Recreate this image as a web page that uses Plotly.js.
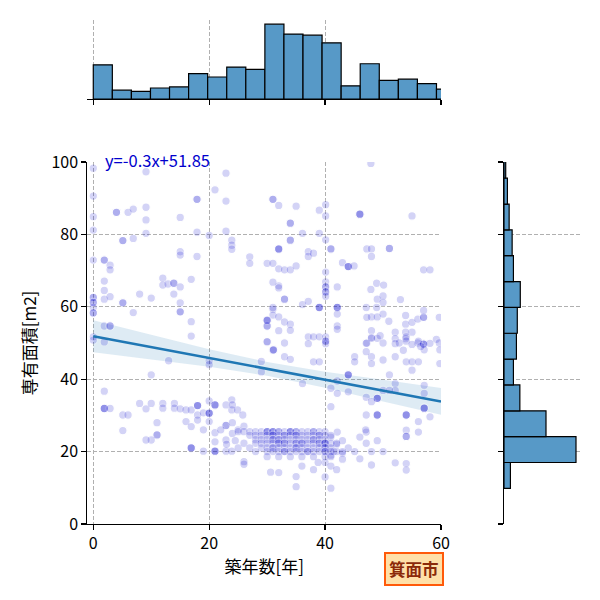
<!DOCTYPE html>
<html>
<head>
<meta charset="utf-8">
<script src="https://cdn.plot.ly/plotly-3.0.1.min.js"></script>
<style>
body { margin: 0; background: #fff; }
#chart { width: 600px; height: 600px; }
</style>
</head>
<body>
<div id="chart"></div>
<script>
// scatter points [築年数, 専有面積]
const pointsUpper = [
  [0,98.3],[9.1,97.3],[0,90.6],[17.9,89.7],[17.9,89.7],[22.9,96.9],[21,92.3],[22.9,89.2],[31,89.7],[31,89.7],
  [32,88],[4,86.1],[4,86.1],[6,86.1],[6.9,87],[9.1,87.5],[9.1,84],[0,84.9],[15,84.7],[0,81.2],
  [9.1,80.3],[17.9,80.6],[20,79.7],[22.9,80.9],[23.9,78.4],[23.9,77],[23.9,75.9],[5.1,78.3],[5.1,78.3],[6.9,78.9],
  [0,72.9],[1.9,72.9],[1.9,72.9],[2.9,71.5],[2.9,70.2],[15,75.2],[15,74.3],[17.9,73.9],[27,73.8],[27,72],
  [30,72],[31,72],[32,75.9],[32,70.5],[1.9,67.1],[1.9,64.5],[1.9,62.1],[2.9,62.8],[5.1,61.1],[5.1,61.1],
  [6.9,58.4],[8,63.5],[10,62.4],[12,67.9],[12,66],[12.9,66.3],[13.9,66.5],[13.9,66.5],[13.9,63.5],[15,65.5],
  [15,61.1],[15,58.6],[15,58.6],[16.9,67.6],[16.9,55.9],[0,62.6],[0,62.6],[0,61.2],[0,61.2],[0,59.8],
  [0,58.3],[0,58.3],[1.9,54.7],[2.9,54.7],[2.9,54.7],[30,56.2],[30,54.7],[30,54.7],[31,59.3],[31,57.7],
  [32,65.8],[32,53.4],[47.9,99.6],[35,87.8],[39,86.7],[40.1,88.2],[40.1,85.1],[46,85.6],[46,85.6],[46,85.6],
  [55,85.1],[34,83.1],[34,83.1],[36.1,80.3],[39,80.3],[40.1,78.5],[34,78.4],[34,78.4],[32,76],[32,76],
  [37.1,75.2],[37.1,73.9],[38,74.8],[41,76],[41,76],[47.2,76],[48,76],[48,73.9],[51.1,76.1],[51.1,76.1],
  [43,72.2],[44,71.1],[44,71.1],[44,71.1],[45,71.3],[57,70.2],[58.1,70.2],[33,70.2],[34,70.2],[35,71.3],
  [31,66.8],[32,65.2],[40.1,69.6],[40.1,66.9],[40.1,65.5],[40.1,65.5],[40.1,64.1],[40.1,64.1],[40.1,62.9],[42.1,65.5],
  [47.9,64.8],[48.9,66.5],[50.1,66],[33,62.1],[33,62.1],[36.1,60.6],[37.1,61.5],[39,59.8],[39,59.8],[39,59.8],
  [42.1,59.8],[42.1,59.8],[42.1,59.8],[42.1,58],[31,59.8],[30,56.3],[30,56.3],[32,57.2],[33,55.8],[34,55.2],
  [34,53.5],[47.1,59.8],[48,57.2],[49,57.2],[50,58],[49,62.1],[50,61.2],[48.9,59.8],[47.2,57.1],[53.9,57.6],
  [53.9,55.2],[55,55.7],[56,56.6],[57,57.1],[57,57.1],[59.7,57.1],[48,53.4],[48,51.5],[42.1,54.7],[42.1,53.8],
  [50,63],[53,62],[51,56],[57,59],[55,53],[59.2,51]
];
const pointsMiddle = [
  [30,50.4],[33,50],[37.1,51.7],[37.1,49.8],[38,51.7],[39,51.7],[40.1,51.7],[40.1,49.8],[52.1,53],[52.1,51.2],
  [52.1,49.8],[53.9,53],[53.9,51.2],[57,49.7],[57,49.7],[57,49.7],[59.7,50],[47.2,50],[48,51.3],[49,51.3],
  [50,50],[52.8,50],[54,51.7],[56,50],[0,51.7],[0,50.8],[1.9,50.3],[16.9,51.9],[13,45.1],[20,45.1],
  [20,44],[10,41.2],[29,44.9],[29,42],[30,50.3],[31,48],[31.1,48.1],[31.1,48.1],[33,46.2],[34,45.5],
  [38,44.8],[39,44.8],[40.1,50.5],[40.1,50.5],[45.1,46.2],[45.1,44.8],[47.1,49.9],[48,46.2],[48,44.3],[50,45.3],
  [47.1,47.6],[52.1,46.2],[54,44.8],[55,44.8],[56.1,44.8],[57.1,48.1],[55,42.5],[54,50.5],[55,49.6],[56.1,50.5],
  [58.1,49.9],[59.8,48.1],[59.8,44.3],[57.1,38.3],[57.1,36.1],[52.1,38.8],[52.1,36.9],[50,36.9],[51.1,36.9],[51.1,41.2],
  [44,41.2],[44,41.2],[44,41.2],[44,36.5],[41,37.5],[42.1,36.1],[42.1,39.5],[36.1,38.8],[1.9,36.7],[56.5,49],
  [53.5,48],[49.5,52]
];
const pointsLower = [
  [1.9,31.9],[1.9,31.9],[1.9,31.9],[2.9,31.9],[5.1,30.1],[6,30.1],[5.1,25.8],[8,33.3],[9.1,31.8],[10,33.3],
  [12,33.3],[12,32],[14,33.3],[14,32],[15,31.8],[16,31.5],[16.9,31.5],[18,32.7],[18,32.7],[18,32.7],
  [18,30.1],[19,30.7],[20,30.6],[20,30.6],[20,30.6],[20,28.3],[21,32.9],[21,32.9],[21,32.9],[19,26],
  [18,28.7],[16,28.3],[16.9,26.9],[11,28],[11,24.6],[11,24.6],[10,23.2],[9.1,23.2],[21,25.2],[21,22.7],
  [22.9,27.2],[22.9,27.2],[22.9,23.2],[23.9,34.3],[23.9,31.5],[24.9,31.5],[25.8,30.1],[22.9,32.9],[24,32.9],[20,34],
  [21,20.1],[21,20.1],[21,20.1],[19,20.1],[22.9,20.1],[23.9,20.1],[16.9,21],[16.9,21],[16.9,21],[26,17.2],
  [26,16.5],[30.6,14.3],[24,25],[25,26],[26,27],[24.5,23],[23,22],[25,21],[22,26],[24,28],
  [35,10.3],[35,13.1],[32,14.2],[41,9.9],[42.1,25.4],[43,19.6],[43,17.9],[45.1,20],[47.1,25.4],[47.1,22.3],
  [48,20],[48,16.3],[52.1,16.9],[54,16.7],[54,14.9],[54,25.9],[54,24.2],[54,24.2],[56.1,25.4],[58.1,29.6],
  [56.1,28.3],[54,30.1],[54,30.1],[54,30.1],[57.1,32],[57.1,32],[57.1,32],[47.1,30.1],[49,30.1],[49,30.1],
  [49,30.1],[49,34.7],[49,34.7],[49,34.7],[47.1,35],[48,33.8],[41,32.4],[41,24],[42,22],[43,23],
  [44,21],[40,17],[41,19],[46,24],[47,26],[49,23],[50,20],[46,18],[36,16],[38,15],
  [40,13],[41,16],[42,15],[38.8,17],[41.5,20]
];
// dense block of small units, one row per area value
const clusterY = [25.5, 24.5, 23.3, 22.3, 21, 20, 18.6];
const clusterX = [
  [25,26,27,28,29,30,30,30,31,31,31,32,32,33,34,34,34,35,35,36,37,38,38,39,40],
  [27,28,29,30,31,31,32,33,33,34,35,35,36,37,38,39,39,40,41],
  [28,29,30,31,31,32,32,33,34,35,36,37,38,38,39,40],
  [26,28,29,30,31,32,32,33,33,34,35,35,36,36,37,38,39,39,40,40,40,41,42],
  [27,29,30,31,31,32,33,34,35,35,36,37,38,39,40,40,41],
  [28,30,31,32,33,33,34,35,36,37,37,38,39,40,40,41,42,43],
  [30,32,34,36,38,40,41]
];

// regression line and its confidence band
const fitX = [0, 60];
const fitY = [51.85, 33.85];
const bandX = [0, 10, 20, 30, 40, 50, 60];
const bandLo = [47.45, 45.55, 43.45, 40.95, 37.65, 33.85, 30.15];
const bandHi = [56.25, 52.15, 48.25, 44.75, 42.05, 39.85, 37.55];

// marginal histograms
const ageBinWidth = 3.29;
const ageCounts = [31, 8, 7, 10, 11, 23, 20, 29, 27, 68, 59, 58, 51, 12, 32, 17, 18, 14, 9];
const areaBinStart = 9.85;
const areaBinWidth = 7.14;
const areaCounts = [15, 168, 98, 37, 22, 29, 31, 38, 22, 19, 12, 8, 4];

const FONT = '"Noto Sans CJK JP", "Noto Sans", sans-serif';
const GRID = '#b0b0b0';
const BAR = '#5799c7';

function drawChart() {
    let pts = pointsUpper.concat(pointsMiddle, pointsLower);
    clusterY.forEach((y, i) => {
        clusterX[i].forEach(x => pts.push([x, y]));
    });

    const scatter = {
        x: pts.map(p => p[0]),
        y: pts.map(p => p[1]),
        type: 'scatter',
        mode: 'markers',
        marker: {
            color: '#0000cd',
            size: 8.5,
            opacity: 0.17,
            line: { color: '#ffffff', width: 1.2 }
        },
        xaxis: 'x', yaxis: 'y',
        hoverinfo: 'skip'
    };
    const lower = {
        x: bandX, y: bandLo, type: 'scatter', mode: 'lines',
        line: { width: 0 }, xaxis: 'x', yaxis: 'y', hoverinfo: 'skip'
    };
    const upper = {
        x: bandX, y: bandHi, type: 'scatter', mode: 'lines',
        line: { width: 0 }, fill: 'tonexty', fillcolor: 'rgba(31,119,180,0.15)',
        xaxis: 'x', yaxis: 'y', hoverinfo: 'skip'
    };
    const fit = {
        x: fitX, y: fitY, type: 'scatter', mode: 'lines',
        line: { color: '#1f77b4', width: 2.6 }, xaxis: 'x', yaxis: 'y'
    };
    const topHist = {
        x: ageCounts.map((c, i) => (i + 0.5) * ageBinWidth),
        y: ageCounts,
        width: ageCounts.map(() => ageBinWidth),
        type: 'bar',
        marker: { color: BAR, line: { color: '#000', width: 1.2 } },
        xaxis: 'x2', yaxis: 'y2'
    };
    const rightHist = {
        y: areaCounts.map((c, i) => areaBinStart + (i + 0.5) * areaBinWidth),
        x: areaCounts,
        width: areaCounts.map(() => areaBinWidth),
        type: 'bar',
        orientation: 'h',
        marker: { color: BAR, line: { color: '#000', width: 1.2 } },
        xaxis: 'x3', yaxis: 'y3'
    };

    const axisBase = {
        showline: true, linecolor: '#000', linewidth: 1.2,
        ticks: 'outside', ticklen: 5, tickwidth: 1.2, tickcolor: '#000',
        showgrid: true, gridcolor: GRID, griddash: '4px,2px', gridwidth: 1,
        zeroline: false
    };
    const mainX = [0.1458, 0.735];
    const mainY = [0.1267, 0.73];

    const layout = {
        width: 600, height: 600,
        margin: { l: 0, r: 0, t: 0, b: 0 },
        paper_bgcolor: '#fff', plot_bgcolor: '#fff',
        showlegend: false,
        bargap: 0,
        font: { family: FONT, size: 16, color: '#000' },
        xaxis: Object.assign({}, axisBase, {
            domain: mainX, range: [-1, 60], tickvals: [0, 20, 40, 60],
            anchor: 'y',
            title: { text: '築年数[年]', font: { size: 17 }, standoff: 7 }
        }),
        yaxis: Object.assign({}, axisBase, {
            domain: mainY, range: [0, 100], tickvals: [0, 20, 40, 60, 80, 100],
            anchor: 'x',
            title: { text: '専有面積[m2]', font: { size: 17 }, standoff: 10 }
        }),
        xaxis2: Object.assign({}, axisBase, {
            domain: mainX, matches: 'x', anchor: 'y2',
            tickvals: [0, 20, 40, 60], showticklabels: false
        }),
        yaxis2: {
            domain: [0.835, 0.966], range: [0, 71.4], anchor: 'x2',
            visible: false
        },
        xaxis3: {
            domain: [0.84, 0.966], range: [0, 176.4], anchor: 'y3',
            visible: false
        },
        yaxis3: Object.assign({}, axisBase, {
            domain: mainY, matches: 'y', anchor: 'x3',
            tickvals: [0, 20, 40, 60, 80, 100], showticklabels: false
        }),
        annotations: [
            {
                text: 'y=-0.3x+51.85', xref: 'x', yref: 'paper', x: 1.6, y: 0.733,
                xanchor: 'left', yanchor: 'middle', showarrow: false,
                font: { color: '#0000cd', size: 16.5 }
            },
            {
                text: '<b>箕面市</b>', xref: 'paper', yref: 'paper', x: 0.69, y: 0.0525,
                xanchor: 'center', yanchor: 'middle', showarrow: false,
                font: { color: '#8b2a0a', size: 16.5 },
                bgcolor: '#ffe0a8', bordercolor: '#ff5a0a', borderwidth: 2, borderpad: 3
            }
        ]
    };

    Plotly.newPlot('chart', [lower, upper, scatter, fit, topHist, rightHist], layout, { staticPlot: true });
}

drawChart();
</script>
</body>
</html>
